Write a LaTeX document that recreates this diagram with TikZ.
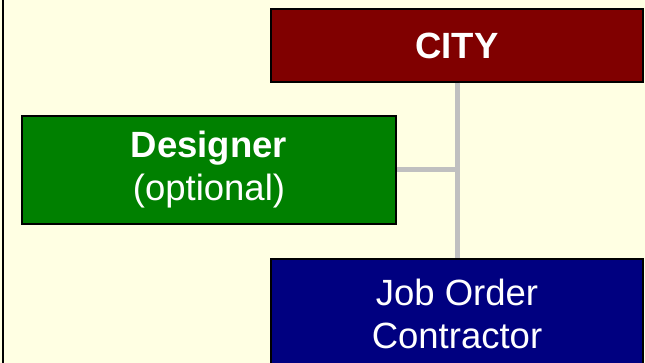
\documentclass[tikz,border=0pt]{standalone}
\usepackage{fontspec}
\setmainfont{Liberation Sans}
\definecolor{bgyellow}{HTML}{FFFFE3}
\definecolor{cityred}{HTML}{800000}
\definecolor{desgreen}{HTML}{008000}
\definecolor{jocnavy}{HTML}{000080}
\definecolor{conngray}{HTML}{C0C0C0}
\tikzset{
  orgbox/.style={draw=black, line width=1.5pt, text=white, align=center, inner sep=0pt,
    font=\fontsize{36.5}{43}\selectfont},
  conn/.style={draw=conngray, line width=5pt}
}
\begin{document}
\begin{tikzpicture}[x=1pt,y=-1pt]
\useasboundingbox (0,0) rectangle (645,363);
\clip (0,0) rectangle (645,363);
\fill[bgyellow] (0,0) rectangle (645,363);
\draw[black, line width=2pt] (3,0) -- (3,363);
\node[orgbox, fill=cityred, minimum width=372pt, minimum height=73pt] (city) at (457,45.5) {\bfseries CITY};
\node[orgbox, fill=desgreen, minimum width=374pt, minimum height=108pt] (designer) at (209,170) {\bfseries Designer\\(optional)};
\node[orgbox, fill=jocnavy, minimum width=372pt, minimum height=110pt] (joc) at (457,314) {Job Order\\Contractor};
\draw[conn] (city.south) -- (joc.north);
\draw[conn] (designer.east) -- (designer.east -| city.south);
\end{tikzpicture}
\end{document}
